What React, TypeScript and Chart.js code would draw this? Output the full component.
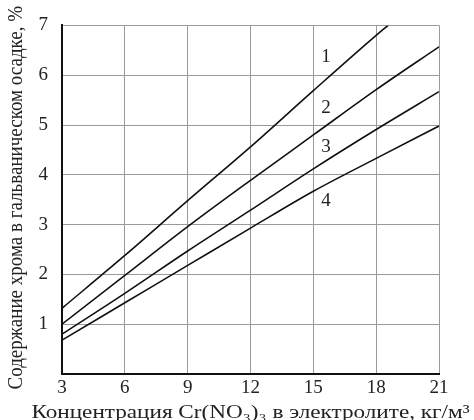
import React, { useEffect, useRef } from "react";
import { Chart, registerables } from "chart.js";

Chart.register(...registerables);

const xTicks = [3, 6, 9, 12, 15, 18, 21];
const curve1X = [3, 6, 9, 12, 15, 18, 18.57];
const curve1Y = [1.32, 2.38, 3.48, 4.56, 5.69, 6.8, 7.0];
const curve2Y = [1.0, 1.98, 2.96, 3.89, 4.8, 5.71, 6.57];
const curve3Y = [0.8, 1.62, 2.47, 3.29, 4.12, 4.91, 5.67];
const curve4Y = [0.68, 1.43, 2.18, 2.93, 3.67, 4.33, 4.98];
const curveLabels = ["1", "2", "3", "4"];
const labelX = [15.6, 15.6, 15.6, 15.6];
const labelY = [6.36, 5.35, 4.55, 3.47];

const xTitle = "Концентрация Cr(NO\u2083)\u2083 в электролите, кг/м\u00B3";
const yTitle = "Содержание хрома в гальваническом осадке, %";

const FONT = "'Liberation Serif', 'Times New Roman', serif";

export default function App() {
  const ref = useRef<HTMLCanvasElement | null>(null);

  useEffect(() => {
    if (!ref.current) return;
    const toPts = (xs: number[], ys: number[]) => xs.map((x, i) => ({ x, y: ys[i] }));
    const lineStyle = {
      borderColor: "#111",
      borderWidth: 1.6,
      pointRadius: 0,
      fill: false,
      cubicInterpolationMode: "monotone" as const,
    };
    const textPlugin = {
      id: "texts",
      afterDatasetsDraw(chart: any) {
        const { ctx, scales, chartArea } = chart;
        ctx.save();
        ctx.fillStyle = "#222";
        ctx.font = `19px ${FONT}`;
        ctx.textAlign = "center";
        ctx.textBaseline = "middle";
        curveLabels.forEach((t, i) => {
          ctx.fillText(t, scales.x.getPixelForValue(labelX[i]), scales.y.getPixelForValue(labelY[i]));
        });
        ctx.restore();

        // x title
        ctx.save();
        ctx.fillStyle = "#222";
        ctx.font = `19px ${FONT}`;
        ctx.textAlign = "center";
        ctx.textBaseline = "alphabetic";
        ctx.translate((chartArea.left + chartArea.right) / 2, 418);
        ctx.scale(1.22, 1);
        ctx.fillText(xTitle, 0, 0);
        ctx.restore();

        // y title
        ctx.save();
        ctx.fillStyle = "#222";
        ctx.font = `19px ${FONT}`;
        ctx.textAlign = "center";
        ctx.textBaseline = "middle";
        ctx.translate(17, (chartArea.top + chartArea.bottom) / 2 - 2);
        ctx.rotate(-Math.PI / 2);
        ctx.scale(1, 1.1);
        ctx.fillText(yTitle, 0, 0);
        ctx.restore();
      },
    };
    const chart = new Chart(ref.current, {
      type: "line",
      data: {
        datasets: [
          { label: "1", data: toPts(curve1X, curve1Y), ...lineStyle },
          { label: "2", data: toPts(xTicks, curve2Y), ...lineStyle },
          { label: "3", data: toPts(xTicks, curve3Y), ...lineStyle },
          { label: "4", data: toPts(xTicks, curve4Y), ...lineStyle },
        ],
      },
      options: {
        animation: false,
        responsive: false,
        maintainAspectRatio: false,
        layout: { padding: { left: 0, right: 35, top: 19, bottom: 0 } },
        plugins: { legend: { display: false }, tooltip: { enabled: false } },
        scales: {
          x: {
            type: "linear",
            min: 3,
            max: 21,
            afterBuildTicks: (s: any) => {
              s.ticks = xTicks.map((v) => ({ value: v }));
            },
            grid: { color: "#9a9a9a", lineWidth: 1, drawTicks: false },
            border: { color: "#111", width: 2 },
            ticks: { color: "#222", font: { family: FONT, size: 19 }, padding: 3, maxRotation: 0 },
            afterFit: (s: any) => {
              s.height = 46;
            },
          },
          y: {
            type: "linear",
            min: 0,
            max: 7,
            ticks: {
              stepSize: 1,
              color: "#222",
              font: { family: FONT, size: 19 },
              padding: 14,
              callback: (v: any) => (v === 0 ? "" : String(v)),
            },
            grid: { color: "#9a9a9a", lineWidth: 1, drawTicks: false },
            border: { color: "#111", width: 2 },
            afterFit: (s: any) => {
              s.width = 62;
            },
          },
        },
      },
      plugins: [textPlugin],
    });
    return () => chart.destroy();
  }, []);

  return (
    <div style={{ position: "absolute", left: 0, top: 0, width: 474, height: 420, background: "#fff" }}>
      <canvas ref={ref} width={474} height={420} style={{ width: 474, height: 420 }} />
    </div>
  );
}
